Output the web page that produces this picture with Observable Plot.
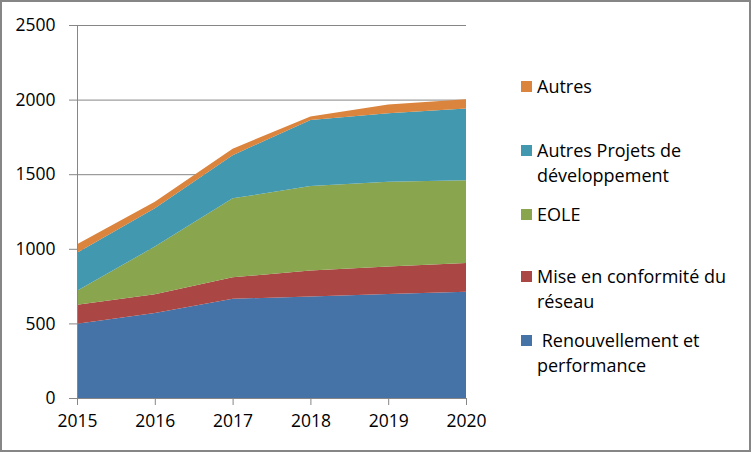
<!DOCTYPE html>
<html>
<head>
<meta charset="utf-8">
<script src="https://cdn.jsdelivr.net/npm/d3@7"></script>
<script src="https://cdn.jsdelivr.net/npm/@observablehq/plot@0.6"></script>
<style>
  html, body { margin: 0; padding: 0; background: #fff; }
  #wrap { position: relative; width: 751px; height: 452px; overflow: hidden; font-family: "Open Sans", sans-serif; }
  #wrap svg { position: absolute; left: 0; top: 0; }
  #border { position: absolute; left: 0; top: 0; width: 751px; height: 452px; box-sizing: border-box; border: 2px solid #868686; pointer-events: none; }
  .leg { position: absolute; left: 521px; font-size: 18px; color: #000; line-height: 25px; }
  .leg .sw { position: absolute; left: 0; top: 7px; width: 11px; height: 11px; }
  .leg .tx { margin-left: 16px; white-space: nowrap; }
</style>
</head>
<body>
<div id="wrap"><div id="border"></div></div>
<script>
const years = [2015, 2016, 2017, 2018, 2019, 2020];
const seriesNames = ["Renouvellement et performance", "Mise en conformité du réseau", "EOLE", "Autres Projets de développement", "Autres"];
const renouvellement = [497, 570, 665, 681, 697, 712];
const conformite = [128, 125, 144, 174, 185, 192];
const eole = [94, 320, 529, 566, 567, 556];
const autresProjets = [255, 256, 289, 443, 460, 480];
const autres = [56, 45, 44, 22, 58, 62];
const colors = ["#4572A7", "#AA4643", "#89A54E", "#4198AF", "#DB843D"];
const yTicks = [0, 500, 1000, 1500, 2000, 2500];
const legendLabels = [["Autres"], ["Autres Projets de", "développement"], ["EOLE"], ["Mise en conformité du", "réseau"], ["\u00A0Renouvellement et", "performance"]];
const legendColors = ["#DB843D", "#4198AF", "#89A54E", "#AA4643", "#4572A7"];

const seriesValues = [renouvellement, conformite, eole, autresProjets, autres];
const rows = [];
seriesNames.forEach((s, i) => years.forEach((y, j) => rows.push({year: y, series: s, value: seriesValues[i][j]})));

const chart = Plot.plot({
  width: 751,
  height: 452,
  marginLeft: 77,
  marginRight: 285,
  marginTop: 25,
  marginBottom: 54,
  style: {fontFamily: "'Open Sans', sans-serif", fontSize: "17px", color: "#000", background: "transparent"},
  x: {domain: [2015, 2020], ticks: years, tickFormat: "d", tickSize: 7, tickPadding: 9, label: null},
  y: {domain: [0, 2500], ticks: yTicks, tickFormat: "d", tickSize: 8, tickPadding: 14, label: null},
  color: {domain: seriesNames, range: colors},
  marks: [
    Plot.ruleY(yTicks, {stroke: "#868686", strokeWidth: 1, strokeOpacity: 1}),
    Plot.areaY(rows, {x: "year", y: "value", z: "series", fill: "series", order: seriesNames, fillOpacity: 1}),
    Plot.ruleX([2015], {stroke: "#868686", strokeWidth: 1}),
    Plot.axisY({ticks: yTicks, tickFormat: "d", tickSize: 8, tickPadding: 14, stroke: "#868686", strokeOpacity: 1, fill: "#000", fontSize: 17.5}),
    Plot.axisX({ticks: years, tickFormat: "d", tickSize: 7, tickPadding: 9, stroke: "#868686", strokeOpacity: 1, fill: "#000", fontSize: 17.5})
  ]
});
const wrap = document.getElementById("wrap");
wrap.insertBefore(chart, wrap.firstChild);

const legendTops = [74, 138, 202, 264, 328];
legendLabels.forEach((lines, i) => {
  const d = document.createElement("div");
  d.className = "leg";
  d.style.top = legendTops[i] + "px";
  const sw = document.createElement("div");
  sw.className = "sw";
  sw.style.background = legendColors[i];
  d.appendChild(sw);
  lines.forEach(l => {
    const t = document.createElement("div");
    t.className = "tx";
    t.textContent = l;
    d.appendChild(t);
  });
  wrap.appendChild(d);
});
</script>
</body>
</html>
